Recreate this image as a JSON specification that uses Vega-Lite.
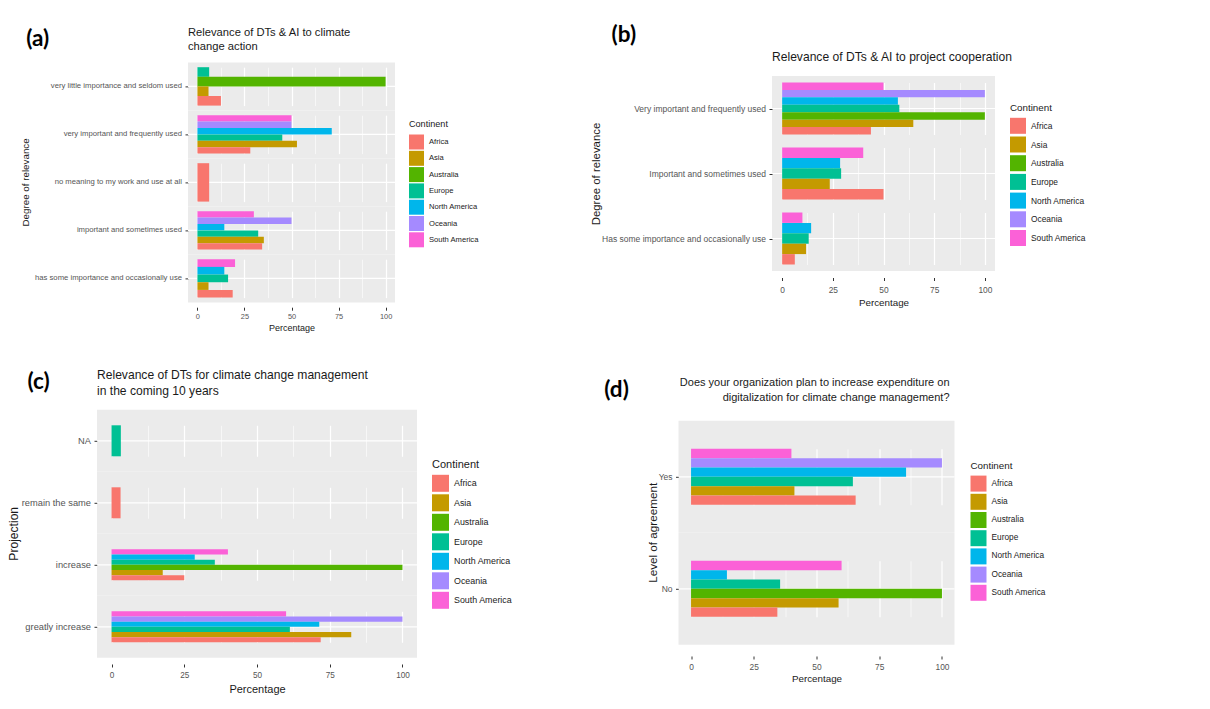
{
  "$schema": "https://vega.github.io/schema/vega-lite/v6.json",
  "background": "#ffffff",
  "padding": {"left": 8, "top": 23, "right": 4, "bottom": 4},
  "config": {
    "font": "Liberation Sans",
    "view": {"fill": "#EBEBEB", "stroke": null},
    "bar": {"strokeWidth": 0}
  },
  "datasets": {
    "a": [
      {"level": "very little importance and seldom used", "continent": "Europe", "pct": 6.25},
      {"level": "very little importance and seldom used", "continent": "Australia", "pct": 100},
      {"level": "very little importance and seldom used", "continent": "Asia", "pct": 5.9},
      {"level": "very little importance and seldom used", "continent": "Africa", "pct": 12.5},
      {"level": "very important and frequently used", "continent": "South America", "pct": 50},
      {"level": "very important and frequently used", "continent": "Oceania", "pct": 50},
      {"level": "very important and frequently used", "continent": "North America", "pct": 71.4},
      {"level": "very important and frequently used", "continent": "Europe", "pct": 45.1},
      {"level": "very important and frequently used", "continent": "Asia", "pct": 52.9},
      {"level": "very important and frequently used", "continent": "Africa", "pct": 28.1},
      {"level": "no meaning to my work and use at all", "continent": "Africa", "pct": 6.25},
      {"level": "important and sometimes used", "continent": "South America", "pct": 30},
      {"level": "important and sometimes used", "continent": "Oceania", "pct": 50},
      {"level": "important and sometimes used", "continent": "North America", "pct": 14.3},
      {"level": "important and sometimes used", "continent": "Europe", "pct": 32.3},
      {"level": "important and sometimes used", "continent": "Asia", "pct": 35.3},
      {"level": "important and sometimes used", "continent": "Africa", "pct": 34.4},
      {"level": "has some importance and occasionally use", "continent": "South America", "pct": 20},
      {"level": "has some importance and occasionally use", "continent": "North America", "pct": 14.3},
      {"level": "has some importance and occasionally use", "continent": "Europe", "pct": 16.3},
      {"level": "has some importance and occasionally use", "continent": "Asia", "pct": 5.9},
      {"level": "has some importance and occasionally use", "continent": "Africa", "pct": 18.75}
    ],
    "b": [
      {"level": "Very important and frequently used", "continent": "South America", "pct": 50},
      {"level": "Very important and frequently used", "continent": "Oceania", "pct": 100},
      {"level": "Very important and frequently used", "continent": "North America", "pct": 57.1},
      {"level": "Very important and frequently used", "continent": "Europe", "pct": 57.8},
      {"level": "Very important and frequently used", "continent": "Australia", "pct": 100},
      {"level": "Very important and frequently used", "continent": "Asia", "pct": 64.7},
      {"level": "Very important and frequently used", "continent": "Africa", "pct": 43.8},
      {"level": "Important and sometimes used", "continent": "South America", "pct": 40},
      {"level": "Important and sometimes used", "continent": "North America", "pct": 28.6},
      {"level": "Important and sometimes used", "continent": "Europe", "pct": 29.1},
      {"level": "Important and sometimes used", "continent": "Asia", "pct": 23.5},
      {"level": "Important and sometimes used", "continent": "Africa", "pct": 50},
      {"level": "Has some importance and occasionally use", "continent": "South America", "pct": 10},
      {"level": "Has some importance and occasionally use", "continent": "North America", "pct": 14.3},
      {"level": "Has some importance and occasionally use", "continent": "Europe", "pct": 13.1},
      {"level": "Has some importance and occasionally use", "continent": "Asia", "pct": 11.8},
      {"level": "Has some importance and occasionally use", "continent": "Africa", "pct": 6.25}
    ],
    "c": [
      {"level": "NA", "continent": "Europe", "pct": 3.2},
      {"level": "remain the same", "continent": "Africa", "pct": 3.1},
      {"level": "increase", "continent": "South America", "pct": 40},
      {"level": "increase", "continent": "North America", "pct": 28.6},
      {"level": "increase", "continent": "Europe", "pct": 35.5},
      {"level": "increase", "continent": "Australia", "pct": 100},
      {"level": "increase", "continent": "Asia", "pct": 17.6},
      {"level": "increase", "continent": "Africa", "pct": 25},
      {"level": "greatly increase", "continent": "South America", "pct": 60},
      {"level": "greatly increase", "continent": "Oceania", "pct": 100},
      {"level": "greatly increase", "continent": "North America", "pct": 71.4},
      {"level": "greatly increase", "continent": "Europe", "pct": 61.3},
      {"level": "greatly increase", "continent": "Asia", "pct": 82.4},
      {"level": "greatly increase", "continent": "Africa", "pct": 71.9}
    ],
    "d": [
      {"level": "Yes", "continent": "South America", "pct": 40},
      {"level": "Yes", "continent": "Oceania", "pct": 100},
      {"level": "Yes", "continent": "North America", "pct": 85.7},
      {"level": "Yes", "continent": "Europe", "pct": 64.5},
      {"level": "Yes", "continent": "Asia", "pct": 41.2},
      {"level": "Yes", "continent": "Africa", "pct": 65.6},
      {"level": "No", "continent": "South America", "pct": 60},
      {"level": "No", "continent": "North America", "pct": 14.3},
      {"level": "No", "continent": "Europe", "pct": 35.5},
      {"level": "No", "continent": "Australia", "pct": 100},
      {"level": "No", "continent": "Asia", "pct": 58.8},
      {"level": "No", "continent": "Africa", "pct": 34.4}
    ]
  },
  "spacing": 35.5,
  "resolve": {"scale": {"color": "independent"}, "legend": {"color": "independent"}},
  "vconcat": [
    {
      "spacing": 111,
      "center": true,
      "resolve": {"scale": {"color": "independent"}, "legend": {"color": "independent"}},
      "hconcat": [
        {
          "data": {"name": "a"},
          "title": {"text": "(a)", "anchor": "start", "font": "Lato", "fontSize": 22.5, "fontWeight": "bold", "color": "#000000", "offset": -23, "dx": 5},
          "spacing": 0,
          "resolve": {"scale": {"color": "independent"}, "legend": {"color": "independent"}},
          "hconcat": [
            {
              "spacing": {"row": 0},
              "facet": {"row": {"field": "level", "type": "nominal", "sort": ["very little importance and seldom used", "very important and frequently used", "no meaning to my work and use at all", "important and sometimes used", "has some importance and occasionally use"], "title": "Degree of relevance", "header": {"labels": false, "titleFontSize": 9.8, "titleFontWeight": "normal", "titleColor": "#1a1a1a", "titlePadding": -9}}},
              "spec": {
                "width": 152, "height": 48,
                "view": {"fill": null, "stroke": null},
                "transform": [{"aggregate": [{"op": "count", "as": "n"}], "groupby": ["level"]}],
                "mark": {"type": "text", "align": "right", "baseline": "middle", "dx": -2, "fontSize": 7.7, "color": "#555555"},
                "encoding": {"text": {"field": "level", "type": "nominal"}, "x": {"value": "width"}}
              }
            },
            {
              "title": {"text": ["Relevance of DTs & AI to climate", "change action"], "anchor": "start", "frame": "group", "fontSize": 11.2, "fontWeight": "normal", "color": "#1a1a1a", "lineHeight": 14, "offset": 10},
              "spacing": {"row": 0},
              "facet": {"row": {"field": "level", "type": "nominal", "sort": ["very little importance and seldom used", "very important and frequently used", "no meaning to my work and use at all", "important and sometimes used", "has some importance and occasionally use"], "title": null, "header": {"labels": false}}},
              "resolve": {"scale": {"y": "independent"}},
              "spec": {
                "width": 207, "height": 48,
                "resolve": {"scale": {"y": "independent"}},
                "layer": [
                  {
                    "transform": [{"aggregate": [{"op": "count", "as": "n"}], "groupby": ["level"]}],
                    "mark": {"type": "rule", "color": "#ffffff", "strokeWidth": 1.2},
                    "encoding": {"y": {"datum": 0.5, "type": "quantitative", "scale": {"domain": [0, 1], "nice": false, "zero": false}, "axis": {"orient": "left", "values": [0.5], "labels": false, "domain": false, "grid": false, "ticks": true, "tickSize": 3, "tickColor": "#333333", "title": null}}}
                  },
                  {
                    "mark": {"type": "bar"},
                    "encoding": {
                      "x": {"field": "pct", "type": "quantitative", "scale": {"domain": [-5, 105], "nice": false, "zero": false},
                        "axis": {"values": [0, 12.5, 25, 37.5, 50, 62.5, 75, 87.5, 100], "labelExpr": "datum.value % 25 === 0 ? datum.label : ''", "labelOverlap": false, "labelFlush": false, "gridColor": "#ffffff", "gridWidth": {"condition": {"test": "datum.value % 25 === 0", "value": 1.2}, "value": 0.6}, "tickOpacity": {"condition": {"test": "datum.value % 25 === 0", "value": 1}, "value": 0}, "tickSize": 7.8, "tickDash": [0, 4.8, 3, 20], "tickColor": "#333333", "domain": false, "labelColor": "#555555", "labelFontSize": 7.4, "labelPadding": 2, "title": "Percentage", "titleFontSize": 9, "titleFontWeight": "normal", "titleColor": "#1a1a1a", "titlePadding": 4}},
                      "x2": {"datum": 0},
                      "y": {"field": "continent", "type": "nominal", "sort": "descending", "scale": {"range": [4.8, 43.2], "paddingInner": 0, "paddingOuter": 0}, "axis": null},
                      "color": {"field": "continent", "type": "nominal",
                        "scale": {"domain": ["Africa", "Asia", "Australia", "Europe", "North America", "Oceania", "South America"], "range": ["#F8766D", "#C49A00", "#53B400", "#00C094", "#00B6EB", "#A58AFF", "#FB61D7"]},
                        "legend": {"title": "Continent", "orient": "none", "legendX": 221, "legendY": 58, "symbolType": "square", "symbolSize": 225, "symbolStrokeWidth": 0, "symbolOpacity": 1, "rowPadding": 1.3, "labelFontSize": 7.6, "labelColor": "#222222", "labelOffset": 5, "titleFontSize": 9.1, "titleFontWeight": "normal", "titleColor": "#1a1a1a", "titlePadding": 5}}
                    }
                  }
                ]
              }
            }
          ]
        },
        {
          "data": {"name": "b"},
          "title": {"text": "(b)", "anchor": "start", "font": "Lato", "fontSize": 22.5, "fontWeight": "bold", "color": "#000000", "offset": -16, "dx": 21},
          "spacing": 0,
          "resolve": {"scale": {"color": "shared"}, "legend": {"color": "shared"}},
          "hconcat": [
            {
              "spacing": {"row": 0},
              "facet": {"row": {"field": "level", "type": "nominal", "sort": ["Very important and frequently used", "Important and sometimes used", "Has some importance and occasionally use"], "title": "Degree of relevance", "header": {"labels": false, "titleFontSize": 11.4, "titleFontWeight": "normal", "titleColor": "#1a1a1a", "titlePadding": -10}}},
              "spec": {
                "width": 165, "height": 65,
                "view": {"fill": null, "stroke": null},
                "transform": [{"aggregate": [{"op": "count", "as": "n"}], "groupby": ["level"]}],
                "mark": {"type": "text", "align": "right", "baseline": "middle", "dx": -2, "fontSize": 8.5, "color": "#555555"},
                "encoding": {"text": {"field": "level", "type": "nominal"}, "x": {"value": "width"}}
              }
            },
            {
              "title": {"text": "Relevance of DTs & AI to project cooperation", "anchor": "start", "frame": "group", "fontSize": 12.1, "fontWeight": "normal", "color": "#1a1a1a", "offset": 13},
              "spacing": {"row": 0},
              "facet": {"row": {"field": "level", "type": "nominal", "sort": ["Very important and frequently used", "Important and sometimes used", "Has some importance and occasionally use"], "title": null, "header": {"labels": false}}},
              "resolve": {"scale": {"y": "independent"}},
              "spec": {
                "width": 223, "height": 65,
                "resolve": {"scale": {"y": "independent"}},
                "layer": [
                  {
                    "transform": [{"aggregate": [{"op": "count", "as": "n"}], "groupby": ["level"]}],
                    "mark": {"type": "rule", "color": "#ffffff", "strokeWidth": 1.2},
                    "encoding": {"y": {"datum": 0.5, "type": "quantitative", "scale": {"domain": [0, 1], "nice": false, "zero": false}, "axis": {"orient": "left", "values": [0.5], "labels": false, "domain": false, "grid": false, "ticks": true, "tickSize": 3, "tickColor": "#333333", "title": null}}}
                  },
                  {
                    "mark": {"type": "bar"},
                    "encoding": {
                      "x": {"field": "pct", "type": "quantitative", "scale": {"domain": [-5, 105], "nice": false, "zero": false},
                        "axis": {"values": [0, 12.5, 25, 37.5, 50, 62.5, 75, 87.5, 100], "labelExpr": "datum.value % 25 === 0 ? datum.label : ''", "labelOverlap": false, "labelFlush": false, "gridColor": "#ffffff", "gridWidth": {"condition": {"test": "datum.value % 25 === 0", "value": 1.2}, "value": 0.6}, "tickOpacity": {"condition": {"test": "datum.value % 25 === 0", "value": 1}, "value": 0}, "tickSize": 9.5, "tickDash": [0, 6.5, 3, 20], "tickColor": "#333333", "domain": false, "labelColor": "#555555", "labelFontSize": 8.4, "labelPadding": 5, "title": "Percentage", "titleFontSize": 9.8, "titleFontWeight": "normal", "titleColor": "#1a1a1a", "titlePadding": 4}},
                      "x2": {"datum": 0},
                      "y": {"field": "continent", "type": "nominal", "sort": "descending", "scale": {"range": [6.5, 58.5], "paddingInner": 0, "paddingOuter": 0}, "axis": null},
                      "color": {"field": "continent", "type": "nominal",
                        "scale": {"domain": ["Africa", "Asia", "Australia", "Europe", "North America", "Oceania", "South America"], "range": ["#F8766D", "#C49A00", "#53B400", "#00C094", "#00B6EB", "#A58AFF", "#FB61D7"]},
                        "legend": {"title": "Continent", "orient": "none", "legendX": 334, "legendY": -46, "padding": 73, "symbolType": "square", "symbolSize": 256, "symbolStrokeWidth": 0, "symbolOpacity": 1, "rowPadding": 2.7, "labelFontSize": 8.4, "labelColor": "#222222", "labelOffset": 5, "titleFontSize": 9.8, "titleFontWeight": "normal", "titleColor": "#1a1a1a", "titlePadding": 5}}
                    }
                  }
                ]
              }
            }
          ]
        }
      ]
    },
    {
      "spacing": 90.5,
      "center": true,
      "resolve": {"scale": {"color": "independent"}, "legend": {"color": "independent"}},
      "hconcat": [
        {
          "data": {"name": "c"},
          "title": {"text": "(c)", "anchor": "start", "font": "Lato", "fontSize": 22.5, "fontWeight": "bold", "color": "#000000", "offset": -24.5, "dx": 19},
          "spacing": 0,
          "resolve": {"scale": {"color": "independent"}, "legend": {"color": "independent"}},
          "hconcat": [
            {
              "spacing": {"row": 0},
              "facet": {"row": {"field": "level", "type": "nominal", "sort": ["NA", "remain the same", "increase", "greatly increase"], "title": "Projection", "header": {"labels": false, "titleFontSize": 12.1, "titleFontWeight": "normal", "titleColor": "#1a1a1a", "titlePadding": -9.5}}},
              "spec": {
                "width": 61, "height": 62,
                "view": {"fill": null, "stroke": null},
                "transform": [{"aggregate": [{"op": "count", "as": "n"}], "groupby": ["level"]}],
                "mark": {"type": "text", "align": "right", "baseline": "middle", "dx": -2, "fontSize": 9.3, "color": "#555555"},
                "encoding": {"text": {"field": "level", "type": "nominal"}, "x": {"value": "width"}}
              }
            },
            {
              "title": {"text": ["Relevance of DTs for climate change management", "in the coming 10 years"], "anchor": "start", "frame": "group", "fontSize": 12.1, "fontWeight": "normal", "color": "#1a1a1a", "lineHeight": 16, "offset": 13},
              "spacing": {"row": 0},
              "facet": {"row": {"field": "level", "type": "nominal", "sort": ["NA", "remain the same", "increase", "greatly increase"], "title": null, "header": {"labels": false}}},
              "resolve": {"scale": {"y": "independent"}},
              "spec": {
                "width": 320, "height": 62,
                "resolve": {"scale": {"y": "independent"}},
                "layer": [
                  {
                    "transform": [{"aggregate": [{"op": "count", "as": "n"}], "groupby": ["level"]}],
                    "mark": {"type": "rule", "color": "#ffffff", "strokeWidth": 1.2},
                    "encoding": {"y": {"datum": 0.5, "type": "quantitative", "scale": {"domain": [0, 1], "nice": false, "zero": false}, "axis": {"orient": "left", "values": [0.5], "labels": false, "domain": false, "grid": false, "ticks": true, "tickSize": 3, "tickColor": "#333333", "title": null}}}
                  },
                  {
                    "mark": {"type": "bar"},
                    "encoding": {
                      "x": {"field": "pct", "type": "quantitative", "scale": {"domain": [-5, 105], "nice": false, "zero": false},
                        "axis": {"values": [0, 12.5, 25, 37.5, 50, 62.5, 75, 87.5, 100], "labelExpr": "datum.value % 25 === 0 ? datum.label : ''", "labelOverlap": false, "labelFlush": false, "gridColor": "#ffffff", "gridWidth": {"condition": {"test": "datum.value % 25 === 0", "value": 1.2}, "value": 0.6}, "tickOpacity": {"condition": {"test": "datum.value % 25 === 0", "value": 1}, "value": 0}, "tickSize": 9.2, "tickDash": [0, 6.2, 3, 20], "tickColor": "#333333", "domain": false, "labelColor": "#555555", "labelFontSize": 8.2, "labelPadding": 4, "title": "Percentage", "titleFontSize": 11, "titleFontWeight": "normal", "titleColor": "#1a1a1a", "titlePadding": 5}},
                      "x2": {"datum": 0},
                      "y": {"field": "continent", "type": "nominal", "sort": "descending", "scale": {"range": [15.5, 46.5], "paddingInner": 0, "paddingOuter": 0}, "axis": null},
                      "color": {"field": "continent", "type": "nominal",
                        "scale": {"domain": ["Africa", "Asia", "Australia", "Europe", "North America", "Oceania", "South America"], "range": ["#F8766D", "#C49A00", "#53B400", "#00C094", "#00B6EB", "#A58AFF", "#FB61D7"]},
                        "legend": {"title": "Continent", "orient": "none", "legendX": 335, "legendY": 49, "symbolType": "square", "symbolSize": 289, "symbolStrokeWidth": 0, "symbolOpacity": 1, "rowPadding": 2.5, "labelFontSize": 8.9, "labelColor": "#222222", "labelOffset": 5, "titleFontSize": 11, "titleFontWeight": "normal", "titleColor": "#1a1a1a", "titlePadding": 5}}
                    }
                  }
                ]
              }
            }
          ]
        },
        {
          "data": {"name": "d"},
          "title": {"text": "(d)", "anchor": "start", "font": "Lato", "fontSize": 22.5, "fontWeight": "bold", "color": "#000000", "offset": -25, "dx": -44},
          "spacing": 0,
          "resolve": {"scale": {"color": "independent"}, "legend": {"color": "independent"}},
          "hconcat": [
            {
              "spacing": {"row": 0},
              "facet": {"row": {"field": "level", "type": "nominal", "sort": ["Yes", "No"], "title": "Level of agreement", "header": {"labels": false, "titleFontSize": 11.7, "titleFontWeight": "normal", "titleColor": "#1a1a1a", "titlePadding": -13.5}}},
              "spec": {
                "width": 18, "height": 112,
                "view": {"fill": null, "stroke": null},
                "transform": [{"aggregate": [{"op": "count", "as": "n"}], "groupby": ["level"]}],
                "mark": {"type": "text", "align": "right", "baseline": "middle", "dx": -2, "fontSize": 8.5, "color": "#555555"},
                "encoding": {"text": {"field": "level", "type": "nominal"}, "x": {"value": "width"}}
              }
            },
            {
              "title": {"text": ["Does your organization plan to increase expenditure on", "digitalization for climate change management?"], "anchor": "start", "align": "right", "frame": "group", "dx": 271, "fontSize": 11, "fontWeight": "normal", "color": "#1a1a1a", "lineHeight": 15, "offset": 18},
              "spacing": {"row": 0},
              "facet": {"row": {"field": "level", "type": "nominal", "sort": ["Yes", "No"], "title": null, "header": {"labels": false}}},
              "resolve": {"scale": {"y": "independent"}},
              "spec": {
                "width": 276, "height": 112,
                "resolve": {"scale": {"y": "independent"}},
                "layer": [
                  {
                    "transform": [{"aggregate": [{"op": "count", "as": "n"}], "groupby": ["level"]}],
                    "mark": {"type": "rule", "color": "#ffffff", "strokeWidth": 1.2},
                    "encoding": {"y": {"datum": 0.5, "type": "quantitative", "scale": {"domain": [0, 1], "nice": false, "zero": false}, "axis": {"orient": "left", "values": [0.5], "labels": false, "domain": false, "grid": false, "ticks": true, "tickSize": 3, "tickColor": "#333333", "title": null}}}
                  },
                  {
                    "mark": {"type": "bar"},
                    "encoding": {
                      "x": {"field": "pct", "type": "quantitative", "scale": {"domain": [-5, 105], "nice": false, "zero": false},
                        "axis": {"values": [0, 12.5, 25, 37.5, 50, 62.5, 75, 87.5, 100], "labelExpr": "datum.value % 25 === 0 ? datum.label : ''", "labelOverlap": false, "labelFlush": false, "gridColor": "#ffffff", "gridWidth": {"condition": {"test": "datum.value % 25 === 0", "value": 1.2}, "value": 0.6}, "tickOpacity": {"condition": {"test": "datum.value % 25 === 0", "value": 1}, "value": 0}, "tickSize": 14.2, "tickDash": [0, 11.2, 3, 20], "tickColor": "#333333", "domain": false, "labelColor": "#555555", "labelFontSize": 8.4, "labelPadding": 3, "title": "Percentage", "titleFontSize": 9.8, "titleFontWeight": "normal", "titleColor": "#1a1a1a", "titlePadding": 3}},
                      "x2": {"datum": 0},
                      "y": {"field": "continent", "type": "nominal", "sort": "descending", "scale": {"range": [28, 84], "paddingInner": 0, "paddingOuter": 0}, "axis": null},
                      "color": {"field": "continent", "type": "nominal",
                        "scale": {"domain": ["Africa", "Asia", "Australia", "Europe", "North America", "Oceania", "South America"], "range": ["#F8766D", "#C49A00", "#53B400", "#00C094", "#00B6EB", "#A58AFF", "#FB61D7"]},
                        "legend": {"title": "Continent", "orient": "none", "legendX": 292, "legendY": 40, "symbolType": "square", "symbolSize": 256, "symbolStrokeWidth": 0, "symbolOpacity": 1, "rowPadding": 2.2, "labelFontSize": 8.3, "labelColor": "#222222", "labelOffset": 5, "titleFontSize": 9.8, "titleFontWeight": "normal", "titleColor": "#1a1a1a", "titlePadding": 5}}
                    }
                  }
                ]
              }
            }
          ]
        }
      ]
    }
  ]
}
